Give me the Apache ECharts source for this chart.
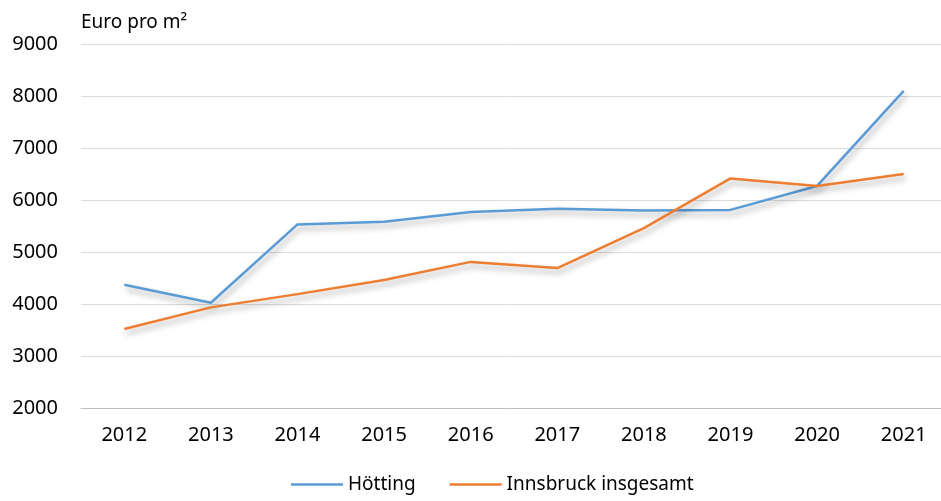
<!DOCTYPE html>
<html>
<head>
<meta charset="utf-8">
<script src="https://cdn.jsdelivr.net/npm/echarts@6/dist/echarts.min.js"></script>
<style>
  html, body { margin: 0; padding: 0; background: #fff; }
  #chart { width: 941px; height: 501px; }
</style>
</head>
<body>
<div id="chart"></div>
<script>
// Data
const years = ['2012', '2013', '2014', '2015', '2016', '2017', '2018', '2019', '2020', '2021']
const hoetting = [4370, 4025, 5530, 5580, 5770, 5830, 5800, 5810, 6270, 8100]
const innsbruck = [3520, 3935, 4190, 4460, 4810, 4690, 5460, 6415, 6270, 6500]
const seriesNames = ['Hötting', 'Innsbruck insgesamt']
const unitLabel = 'Euro pro m²'

const FONT = 'Noto Sans'
const chart = echarts.init(document.getElementById('chart'))

const lineShadow = {
  shadowColor: 'rgba(0,0,0,0.35)',
  shadowBlur: 6,
  shadowOffsetX: 2,
  shadowOffsetY: 4,
}

chart.setOption({
  animation: false,
  textStyle: { fontFamily: FONT, color: '#000' },
  title: {
    text: unitLabel,
    left: 76,
    top: 8,
    textStyle: { fontFamily: FONT, fontSize: 19, fontWeight: 'normal', color: '#000' },
  },
  legend: {
    bottom: 2,
    left: 286,
    icon: 'rect',
    itemWidth: 52,
    itemHeight: 2.5,
    itemGap: 34,
    textStyle: { fontFamily: FONT, fontSize: 19, color: '#000' },
    data: seriesNames,
  },
  // the plot runs past the right edge of the canvas in the original
  grid: { left: 81, width: 866, top: 44, bottom: 93, outerBoundsMode: 'none' },
  xAxis: {
    type: 'category',
    data: years,
    boundaryGap: true,
    axisLine: { lineStyle: { color: '#bfbfbf', width: 1 } },
    axisTick: { show: false },
    axisLabel: { fontFamily: FONT, fontSize: 20, color: '#000', margin: 17 },
  },
  yAxis: {
    type: 'value',
    min: 2000,
    max: 9000,
    interval: 1000,
    axisLine: { show: false },
    axisTick: { show: false },
    axisLabel: {
      fontFamily: FONT, fontSize: 20, color: '#000', margin: 23,
      formatter: (v) => String(v),
    },
    splitLine: { lineStyle: { color: '#dcdcdc', width: 1 } },
  },
  series: [
    {
      name: seriesNames[0],
      type: 'line',
      data: hoetting,
      symbol: 'none',
      lineStyle: { color: '#5b9bd5', width: 2.5, ...lineShadow },
      itemStyle: { color: '#5b9bd5' },
    },
    {
      name: seriesNames[1],
      type: 'line',
      data: innsbruck,
      symbol: 'none',
      lineStyle: { color: '#ed7d31', width: 2.5, ...lineShadow },
      itemStyle: { color: '#ed7d31' },
    },
  ],
})
</script>
</body>
</html>
